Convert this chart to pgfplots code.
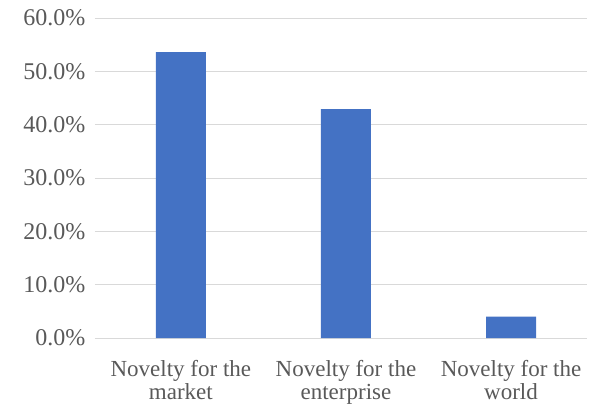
\documentclass[border=0pt]{standalone}
\usepackage{pgfplots}
\pgfplotsset{compat=1.18}
\usepackage{fontspec}
\setmainfont{Liberation Serif}
\definecolor{barblue}{HTML}{4472C4}
\definecolor{txtgray}{HTML}{595959}
\definecolor{gridgray}{HTML}{D9D9D9}
\begin{document}
\begin{tikzpicture}
\path[use as bounding box] (-95bp,-71bp) rectangle (500bp,338bp);
\begin{axis}[
  at={(0,0)}, anchor=south west,
  scale only axis,
  width=492bp, height=320bp,
  xmin=-0.52, xmax=2.46,
  ymin=0, ymax=60,
  ytick={0,10,20,30,40,50,60},
  xtick={0,1,2},
  xticklabels={{Novelty for the\\market},{Novelty for the\\enterprise},{Novelty for the\\world}},
  axis line style={draw=none},
  major tick length=0pt,
  ymajorgrids,
  grid style={gridgray, line width=0.8bp},
  /pgf/number format/assume math mode=true,
  yticklabel={\pgfmathprintnumber[fixed,fixed zerofill,precision=1]{\tick}\%},
  yticklabel style={font=\fontsize{24bp}{28bp}\selectfont, text=txtgray, anchor=east, xshift=-6bp},
  xticklabel style={font=\fontsize{23bp}{23bp}\selectfont, text=txtgray, align=center, anchor=north, yshift=-19bp},
  clip=false,
]
\addplot[ybar, bar width=50bp, fill=barblue, draw=none] coordinates {(0,53.6) (1,42.9) (2,4.0)};
\end{axis}
\end{tikzpicture}
\end{document}
